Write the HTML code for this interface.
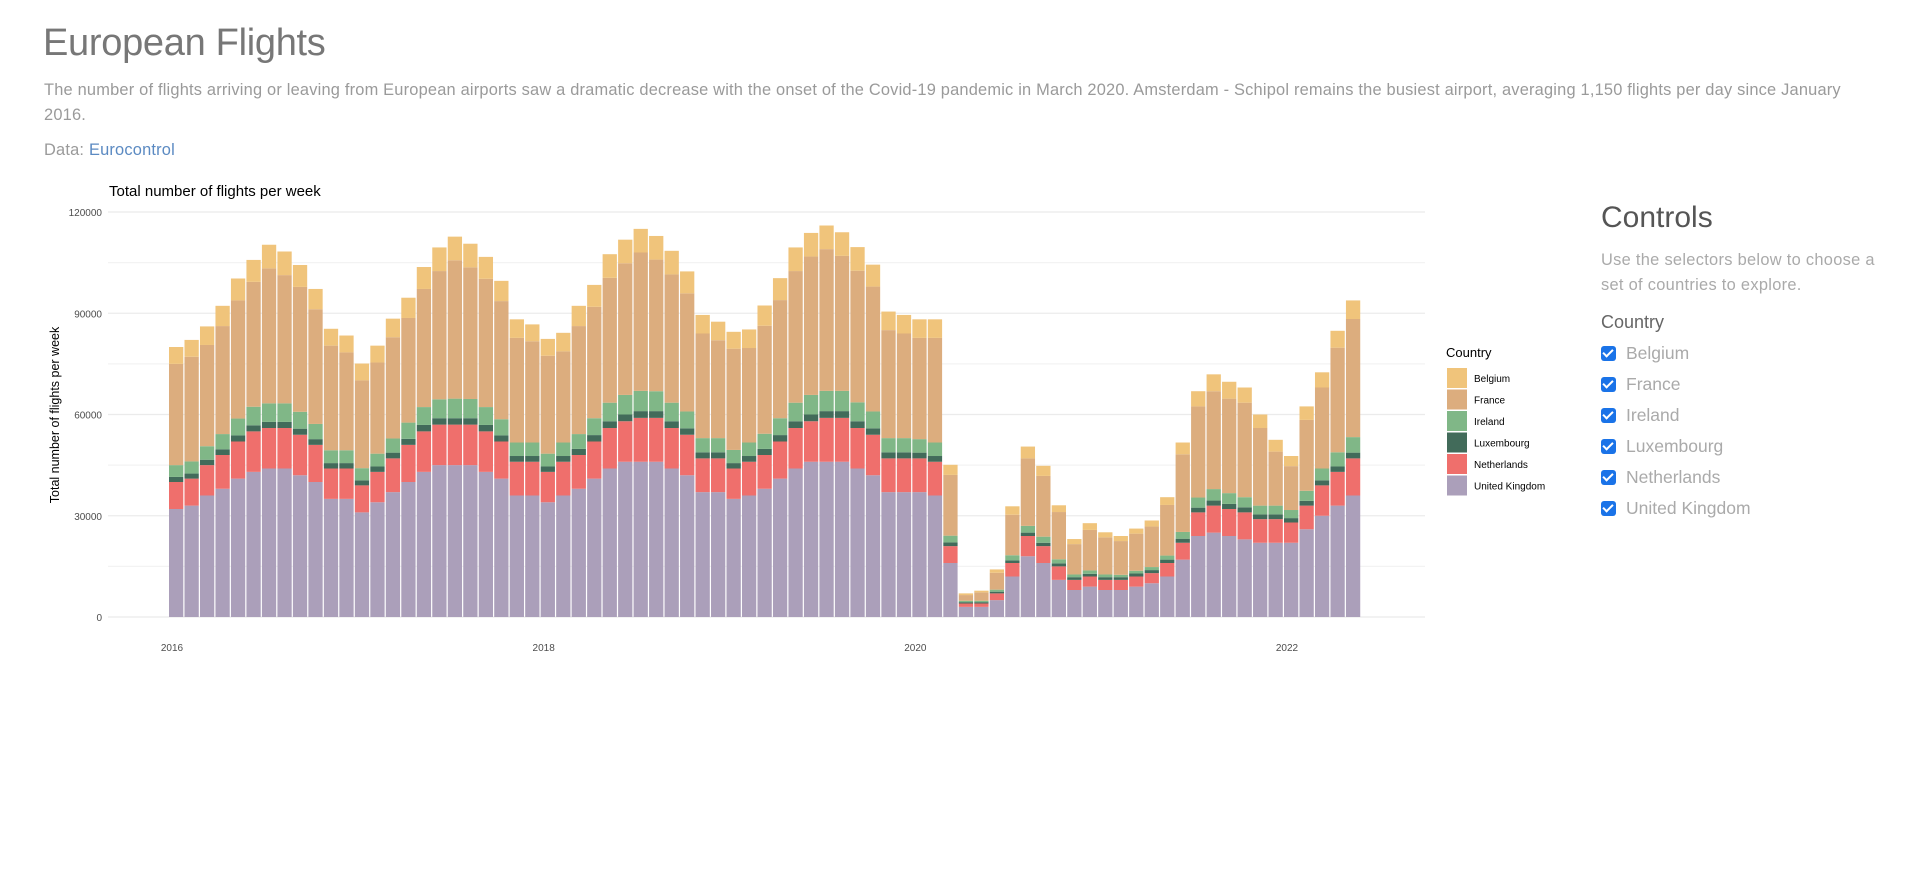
<!DOCTYPE html>
<html><head><meta charset="utf-8">
<style>
body{margin:0;background:#fff;font-family:"Liberation Sans",sans-serif;width:1918px;height:886px;overflow:hidden;position:relative}
.abs{position:absolute;white-space:nowrap}
#title{left:43px;top:22px;font-size:38px;color:#777;font-weight:normal;letter-spacing:-0.3px}
#desc{left:44px;top:78px;font-size:16.4px;color:#9a9a9a;line-height:25px;letter-spacing:0.2px}
#data{left:44px;top:141px;font-size:16.4px;color:#9a9a9a;letter-spacing:0.2px}
#data a{color:#5b8ac2;text-decoration:none}
#ctitle{left:1601px;top:201px;font-size:30px;color:#555}
#ctext{left:1601px;top:248px;font-size:16.4px;color:#aaa;line-height:25px;letter-spacing:0.3px}
#clabel{left:1601px;top:312px;font-size:18px;color:#666}
.cb{position:absolute;left:1601px;font-size:17.5px;color:#aaa;display:flex;align-items:center}
.cb span.box{width:15px;height:15px;background:#1a73e8;border-radius:3px;margin-right:10px;display:inline-block;position:relative}
.cb span.box:after{content:"";position:absolute;left:4px;top:1px;width:4px;height:8px;border:solid #fff;border-width:0 2.5px 2.5px 0;transform:rotate(45deg)}
</style></head>
<body>
<div id="title" class="abs">European Flights</div>
<div id="desc" class="abs">The number of flights arriving or leaving from European airports saw a dramatic decrease with the onset of the Covid-19 pandemic in March 2020. Amsterdam - Schipol remains the busiest airport, averaging 1,150 flights per day since January<br>2016.</div>
<div id="data" class="abs">Data: <a href="#">Eurocontrol</a></div>

<svg id="chart" width="1918" height="886" style="position:absolute;left:0;top:0">
<text x="109" y="196" font-size="15" fill="#000">Total number of flights per week</text>
<g id="grid"></g><g id="bars"></g><g id="axes"></g>
<text transform="translate(59,415) rotate(-90)" text-anchor="middle" font-size="12.5" fill="#000">Total number of flights per week</text>
<g id="legend"></g>
</svg>

<div id="ctitle" class="abs">Controls</div>
<div id="ctext" class="abs">Use the selectors below to choose a<br>set of countries to explore.</div>
<div id="clabel" class="abs">Country</div>
<div class="cb" style="top:343px"><span class="box"></span>Belgium</div>
<div class="cb" style="top:374px"><span class="box"></span>France</div>
<div class="cb" style="top:405px"><span class="box"></span>Ireland</div>
<div class="cb" style="top:436px"><span class="box"></span>Luxembourg</div>
<div class="cb" style="top:467px"><span class="box"></span>Netherlands</div>
<div class="cb" style="top:498px"><span class="box"></span>United Kingdom</div>

<script>
// monthly average weekly flights (thousands), Jan 2016 .. May 2022
const startYear = 2016;
const ukVals = [32,33,36,38,41,43,44,44,42,40,35,35, 31,34,37,40,43,45,45,45,43,41,36,36, 34,36,38,41,44,46,46,46,44,42,37,37, 35,36,38,41,44,46,46,46,44,42,37,37, 37,36,16,3,3,5,12,18,16,11,8,9, 8,8,9,10,12,17,24,25,24,23,22,22, 22,26,30,33,36];
const nlVals = [8,8,9,10,11,12,12,12,12,11,9,9, 8,9,10,11,12,12,12,12,12,11,10,10, 9,10,10,11,12,12,13,13,12,12,10,10, 9,10,10,11,12,12,13,13,12,12,10,10, 10,10,5,1,1,2,4,6,5,4,3,3, 3,3,3,3,4,5,7,8,8,8,7,7, 6,7,9,10,11];
const luVals = [1.5,1.5,1.6,1.7,1.8,1.8,1.8,1.8,1.8,1.7,1.6,1.6, 1.5,1.6,1.7,1.8,1.9,1.9,1.9,1.9,1.9,1.8,1.7,1.7, 1.6,1.7,1.8,1.9,2,2,2,2,2,1.9,1.8,1.8, 1.6,1.7,1.8,1.9,2,2,2,2,2,1.9,1.8,1.8, 1.7,1.7,1.1,0.4,0.4,0.5,0.8,1,1,0.9,0.8,0.8, 0.8,0.8,0.9,0.9,1,1.2,1.4,1.5,1.5,1.5,1.4,1.4, 1.3,1.4,1.5,1.6,1.7];
const ieVals = [3.5,3.6,4,4.5,5,5.5,5.5,5.5,5,4.5,3.8,3.8, 3.6,3.8,4.2,4.8,5.3,5.6,5.8,5.7,5.3,4.8,4,4, 3.8,4,4.4,5,5.5,5.8,6,5.9,5.5,5,4.2,4.2, 3.9,4,4.5,5,5.5,5.8,6,6,5.6,5,4.2,4.2, 4,4,2,0.4,0.4,0.6,1.5,2,1.8,1.2,0.8,1, 0.8,0.7,0.8,0.9,1.2,2,3,3.4,3.2,3,2.6,2.6, 2.4,3,3.5,4.2,4.6];
const frVals = [30,31,30,32,35,37,40,38,37,34,31,29, 26,27,30,31,35,38,41,39,38,35,31,30, 29,27,32,33,37,39,41,39,38,35,31,29, 30,28,32,35,39,41,42,40,39,37,32,31, 30,31,18,1.7,2.5,5,12,20,18,14,9,12, 11,10,11,12,15,23,27,29,28,28,23,16, 13,21,24,31,35];
const beVals = [5,5,5.5,6,6.5,6.5,7,7,6.5,6,5,5, 5,5,5.5,6,6.5,7,7,7,6.5,6,5.5,5, 5,5.5,6,6.5,7,7,7,7,7,6.5,5.5,5.5, 5,5.5,6,6.5,7,7,7,7,7,6.5,5.5,5.5, 5.5,5.5,3,0.5,0.5,1,2.5,3.5,3,2,1.5,2, 1.5,1.5,1.5,1.8,2.3,3.5,4.5,5,5,4.5,4,3.5, 3,4,4.5,5,5.5];
const yTicks = [0,30000,60000,90000,120000];
const xTickYears = [2016,2018,2020,2022];
const countries = ["United Kingdom","Netherlands","Luxembourg","Ireland","France","Belgium"];
const legendOrder = ["Belgium","France","Ireland","Luxembourg","Netherlands","United Kingdom"];

const colors = {"United Kingdom":"#ab9fba","Netherlands":"#ef6f6c","Luxembourg":"#426b5a","Ireland":"#80b787","France":"#dcad7e","Belgium":"#f0c47b"};
const series = {"United Kingdom":ukVals,"Netherlands":nlVals,"Luxembourg":luVals,"Ireland":ieVals,"France":frVals,"Belgium":beVals};
const NS="http://www.w3.org/2000/svg";
const yScale = v => 617 - v/120000*405;
const xScale = yr => 172 + (yr-2016)*(1115/6);
function mk(tag, attrs){const e=document.createElementNS(NS,tag);for(const k in attrs)e.setAttribute(k,attrs[k]);return e;}

const grid=document.getElementById('grid');
for(let v=0; v<=120000; v+=15000){
  const l=mk('line',{x1:108,x2:1425,y1:yScale(v),y2:yScale(v),stroke:(v%30000===0)?'#ebebeb':'#f3f3f3','stroke-width':1.2});
  
  
  grid.appendChild(l);
}
const axes=document.getElementById('axes');
yTicks.forEach(v=>{
  const t=mk('text',{x:102,y:yScale(v)+4,'text-anchor':'end','font-size':10,fill:'#4d4d4d'});
  t.textContent=v;
  
  
  axes.appendChild(t);
});
xTickYears.forEach(y=>{
  const t=mk('text',{x:xScale(y),y:651,'text-anchor':'middle','font-size':10,fill:'#4d4d4d'});
  t.textContent=y;
  
  
  axes.appendChild(t);
});
const bars=document.getElementById('bars');
const n=ukVals.length;
for(let i=0;i<n;i++){
  const x0=xScale(startYear+i/12)-3, x1=xScale(startYear+(i+1)/12)-3;
  let cum=0;
  countries.forEach(c=>{
    const v=series[c][i]*1000;
    const r=mk('rect',{x:x0,y:yScale(cum+v),width:Math.max(0,x1-x0-1.2),height:yScale(cum)-yScale(cum+v),fill:colors[c]});
    
    
    bars.appendChild(r);
    cum+=v;
  });
}
const lg=document.getElementById('legend');
const lt=mk('text',{x:1446,y:357,'font-size':13,fill:'#000'});
lt.textContent='Country';


lg.appendChild(lt);
legendOrder.forEach((c,i)=>{
  const y=368+i*21.5;
  const r=mk('rect',{x:1447,y:y,width:20,height:20,fill:colors[c]});
  
  
  lg.appendChild(r);
  const t=mk('text',{x:1474,y:y+14,'font-size':10,fill:'#000'});
  t.textContent=c;
  
  
  lg.appendChild(t);
});
</script>
</body></html>
